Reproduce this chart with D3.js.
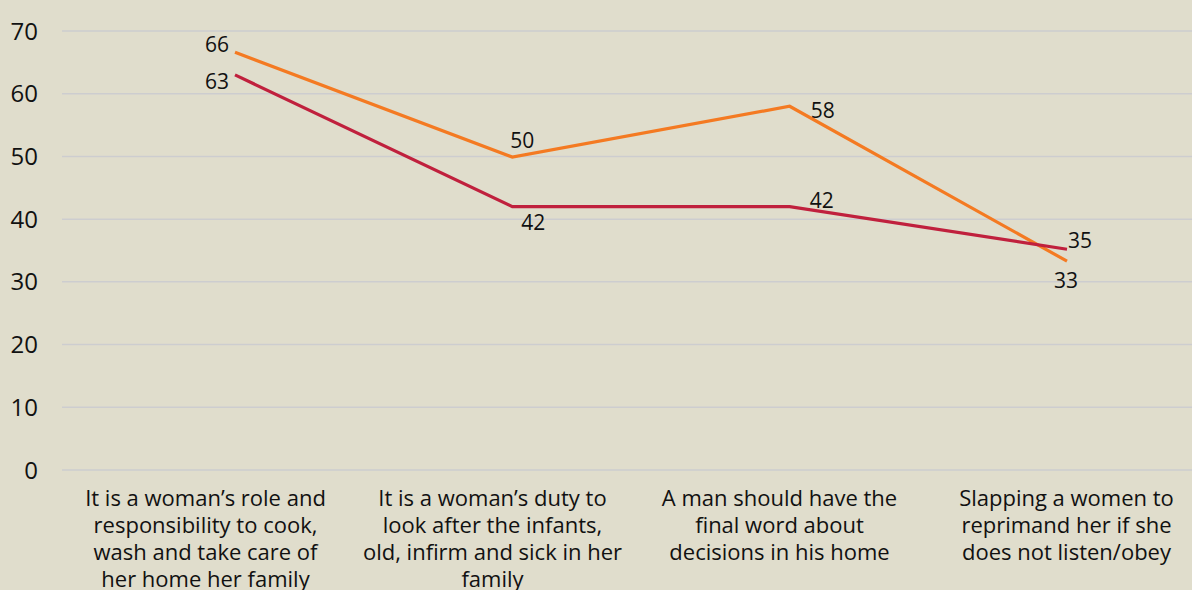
<!DOCTYPE html>
<html>
<head>
<meta charset="utf-8">
<script src="https://cdn.jsdelivr.net/npm/d3@7"></script>
<style>
  body { margin: 0; background: #e0ddcc; }
  svg { display: block; }
</style>
</head>
<body>
<div id="chart"></div>
<script>
const categories = [
    ["It is a woman’s role and", "responsibility to cook,", "wash and take care of", "her home her family"],
    ["It is a woman’s duty to", "look after the infants,", "old, infirm and sick in her", "family"],
    ["A man should have the", "final word about", "decisions in his home"],
    ["Slapping a women to", "reprimand her if she", "does not listen/obey"]
];
const orangeValues = [66.6, 49.9, 58.0, 33.3];
const orangeLabels = ["66", "50", "58", "33"];
const redValues = [63.0, 42.0, 42.0, 35.2];
const redLabels = ["63", "42", "42", "35"];
const yTicks = [0, 10, 20, 30, 40, 50, 60, 70];

const width = 1192, height = 590;
const font = "'Open Sans', sans-serif";

const svg = d3.select("#chart").append("svg")
    .attr("width", width)
    .attr("height", height)
    .style("font-family", font);

const idx = d3.range(categories.length);
const y = d3.scaleLinear().domain([0, 70]).range([470, 31]);
const xPt = d3.scalePoint().domain(idx).range([235, 1067]);
const xLab = d3.scaleBand().domain(idx).range([62, 1210]);

// gridlines
svg.append("g")
    .selectAll("line")
    .data(yTicks)
    .enter().append("line")
    .attr("x1", 62).attr("x2", width)
    .attr("y1", d => y(d)).attr("y2", d => y(d))
    .attr("stroke", "#cdcdcf")
    .attr("stroke-width", 1.5);

// y tick labels
svg.append("g")
    .selectAll("text")
    .data(yTicks)
    .enter().append("text")
    .attr("x", 38)
    .attr("y", d => y(d))
    .attr("dy", "0.36em")
    .attr("text-anchor", "end")
    .style("font-size", "24px")
    .attr("fill", "#111")
    .text(d => d);

// category labels
const cat = svg.append("g")
    .selectAll("text")
    .data(categories)
    .enter().append("text")
    .attr("text-anchor", "middle")
    .style("font-size", "22px")
    .attr("fill", "#111");

cat.selectAll("tspan")
    .data((d, i) => d.map(t => ({t, i})))
    .enter().append("tspan")
    .attr("x", d => xLab(d.i) + xLab.bandwidth() / 2)
    .attr("y", (d, j) => 506 + j * 27)
    .text(d => d.t);

const line = d3.line()
    .x((d, i) => xPt(i))
    .y(d => y(d));

svg.append("path")
    .datum(orangeValues)
    .attr("fill", "none")
    .attr("stroke", "#f47a22")
    .attr("stroke-width", 3.2)
    .attr("d", line);

svg.append("path")
    .datum(redValues)
    .attr("fill", "none")
    .attr("stroke", "#c0203d")
    .attr("stroke-width", 3.2)
    .attr("d", line);

// data labels: offsets relative to point
const orangeOff = [[-6, 0, "end"], [-2, -9, "start"], [21, 12, "start"], [-13, 27, "start"]];
const redOff = [[-6, 14, "end"], [9, 23, "start"], [20, 1, "start"], [1, -1, "start"]];

function labels(values, texts, offs) {
    svg.append("g")
        .selectAll("text")
        .data(values)
        .enter().append("text")
        .attr("x", (d, i) => xPt(i) + offs[i][0])
        .attr("y", (d, i) => y(d) + offs[i][1])
        .attr("text-anchor", (d, i) => offs[i][2])
        .style("font-size", "21px")
        .attr("fill", "#111")
        .text((d, i) => texts[i]);
}
labels(orangeValues, orangeLabels, orangeOff);
labels(redValues, redLabels, redOff);
</script>
</body>
</html>
